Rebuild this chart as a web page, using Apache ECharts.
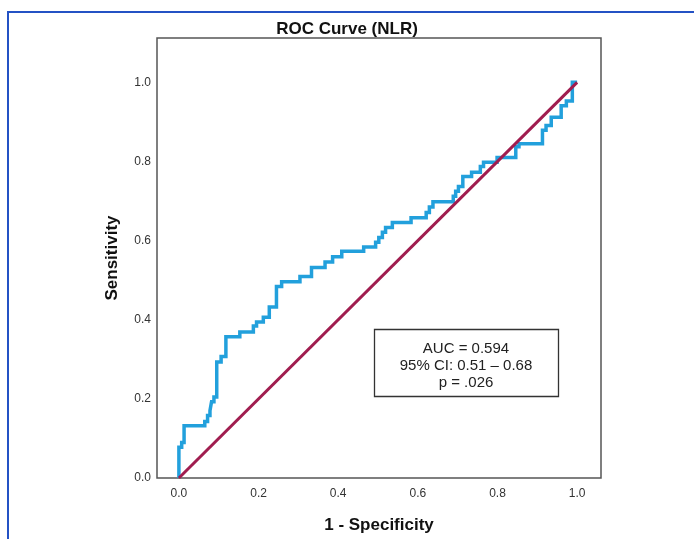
<!DOCTYPE html>
<html><head><meta charset="utf-8">
<script src="https://cdn.jsdelivr.net/npm/echarts@6/dist/echarts.min.js"></script>
<style>html,body{margin:0;padding:0;background:#fff}#c{width:694px;height:539px}</style>
</head><body><div id="c"></div>
<script>
// ROC curve vertices (1 - Specificity, Sensitivity)
const fpr = [0,0,0.007,0.007,0.013,0.013,0.065,0.065,0.072,0.072,0.078,0.078,0.082,0.082,0.088,0.088,0.095,0.095,0.106,0.106,0.118,0.118,0.153,0.153,0.187,0.187,0.195,0.195,0.212,0.212,0.227,0.227,0.245,0.245,0.258,0.258,0.304,0.304,0.333,0.333,0.367,0.367,0.386,0.386,0.409,0.409,0.464,0.464,0.494,0.494,0.502,0.502,0.511,0.511,0.519,0.519,0.536,0.536,0.583,0.583,0.621,0.621,0.629,0.629,0.638,0.638,0.689,0.689,0.695,0.695,0.702,0.702,0.713,0.713,0.735,0.735,0.757,0.757,0.765,0.765,0.799,0.799,0.846,0.846,0.854,0.854,0.913,0.913,0.922,0.922,0.935,0.935,0.960,0.960,0.973,0.973,0.988,0.988,1.0];
const tpr = [0,0.078,0.078,0.090,0.090,0.132,0.132,0.143,0.143,0.158,0.158,0.170,0.170,0.193,0.193,0.205,0.205,0.293,0.293,0.307,0.307,0.357,0.357,0.369,0.369,0.384,0.384,0.394,0.394,0.406,0.406,0.432,0.432,0.484,0.484,0.496,0.496,0.509,0.509,0.532,0.532,0.546,0.546,0.559,0.559,0.573,0.573,0.584,0.584,0.596,0.596,0.608,0.608,0.621,0.621,0.633,0.633,0.646,0.646,0.658,0.658,0.671,0.671,0.685,0.685,0.698,0.698,0.712,0.712,0.725,0.725,0.737,0.737,0.762,0.762,0.773,0.773,0.787,0.787,0.798,0.798,0.810,0.810,0.837,0.837,0.845,0.845,0.879,0.879,0.891,0.891,0.912,0.912,0.941,0.941,0.953,0.953,1.0,1.0];
// Reference diagonal
const refX = [0, 1];
const refY = [0, 1];
// Tick labels
const tickValues = [0, 0.2, 0.4, 0.6, 0.8, 1.0];
// Annotation text
const statLines = ['AUC = 0.594', '95% CI: 0.51 \u2013 0.68', 'p = .026'];

const FONT = '"Liberation Sans", Arial, sans-serif';
const chart = echarts.init(document.getElementById('c'), null, {renderer: 'canvas'});

const curveData = fpr.map((x, i) => [x, tpr[i]]);
const refData = refX.map((x, i) => [x, refY[i]]);

const axisLabelCommon = {
  customValues: tickValues,
  formatter: v => Number(v).toFixed(1),
  fontSize: 12, color: '#333', fontFamily: FONT
};

const graphics = [
  {type: 'rect', z: 100, silent: true,
   shape: {x: 8, y: 12, width: 720, height: 560},
   style: {fill: 'none', stroke: '#2452c4', lineWidth: 2}},
  {type: 'rect', z: 100, silent: true,
   shape: {x: 374.5, y: 329.5, width: 184, height: 67},
   style: {fill: '#fff', stroke: '#333', lineWidth: 1.3}}
];
statLines.forEach((t, i) => {
  graphics.push({type: 'text', z: 101, silent: true, x: 466, y: 349 + i * 17,
    style: {text: t, textAlign: 'center', textVerticalAlign: 'middle',
            font: '15px ' + FONT, fill: '#222'}});
});

chart.setOption({
  animation: false,
  backgroundColor: '#fff',
  title: {
    text: 'ROC Curve (NLR)', left: 'center', top: 16,
    textStyle: {fontSize: 17, fontWeight: 'bold', color: '#111', fontFamily: FONT}
  },
  grid: {left: 157, top: 38, width: 444, height: 446, show: true,
         borderColor: '#555', borderWidth: 1.5, backgroundColor: 'transparent'},
  xAxis: {
    type: 'value', min: -0.055, max: 1.06,
    axisLine: {show: false}, axisTick: {show: false}, splitLine: {show: false},
    axisLabel: Object.assign({margin: 10}, axisLabelCommon),
    name: '1 - Specificity', nameLocation: 'middle', nameGap: 39,
    nameTextStyle: {fontSize: 17, fontWeight: 'bold', color: '#111', fontFamily: FONT}
  },
  yAxis: {
    type: 'value', min: 0, max: 1.112,
    axisLine: {show: false}, axisTick: {show: false}, splitLine: {show: false},
    axisLabel: Object.assign({margin: 6}, axisLabelCommon),
    name: 'Sensitivity', nameLocation: 'middle', nameGap: 36,
    nameTextStyle: {fontSize: 17, fontWeight: 'bold', color: '#111', fontFamily: FONT}
  },
  series: [
    {type: 'line', data: curveData, showSymbol: false, symbol: 'none', z: 2,
     lineStyle: {color: '#22a0dc', width: 3.5, join: 'miter'}},
    {type: 'line', data: refData, showSymbol: false, symbol: 'none', z: 3,
     lineStyle: {color: '#a01d4f', width: 3}}
  ],
  graphic: graphics
});
</script>
</body></html>
